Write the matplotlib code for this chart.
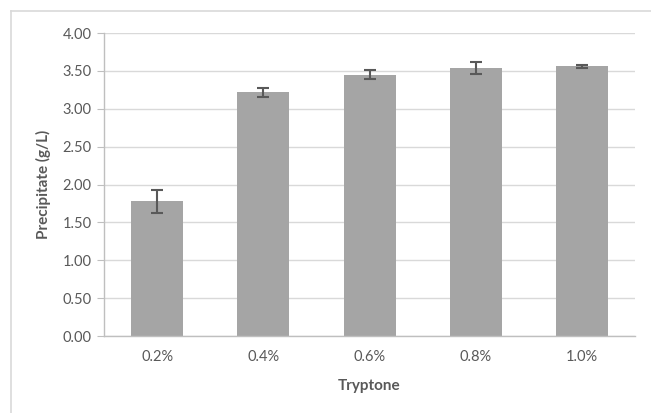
import matplotlib.pyplot as plt
from matplotlib.lines import Line2D

categories = ["0.2%", "0.4%", "0.6%", "0.8%", "1.0%"]
values = [1.78, 3.22, 3.45, 3.54, 3.56]
errors = [0.15, 0.06, 0.06, 0.08, 0.02]
yticks = [0.0, 0.5, 1.0, 1.5, 2.0, 2.5, 3.0, 3.5, 4.0]

plt.rcParams["font.family"] = ["Lato", "DejaVu Sans"]

fig = plt.figure(figsize=(6.51, 4.13), dpi=100)
ax = fig.add_axes([0.1598, 0.1864, 0.8157, 0.7336])

# chart area border (cropped: only top and left edges visible)
bx, by = 10.5 / 651, 1 - 10.5 / 413
fig.lines.append(Line2D([bx, 1], [by, by], transform=fig.transFigure,
                        color="#d9d9d9", linewidth=1.2))
fig.lines.append(Line2D([bx, bx], [0, by], transform=fig.transFigure,
                        color="#d9d9d9", linewidth=1.2))

x = range(len(categories))
ax.bar(x, values, width=0.49, color="#a5a5a5", zorder=2)
ax.errorbar(x, values, yerr=errors, fmt="none", ecolor="#595959",
            elinewidth=1.5, capsize=4, capthick=1.5, zorder=3)

ax.set_xlim(-0.5, len(categories) - 0.5)
ax.set_ylim(0, 4)
ax.set_yticks(yticks)
ax.set_yticklabels([f"{t:.2f}" for t in yticks])
ax.set_xticks(list(x))
ax.set_xticklabels(categories)
ax.yaxis.grid(True, color="#d9d9d9", linewidth=1, zorder=0)
ax.set_axisbelow(True)

for s in ["top", "right"]:
    ax.spines[s].set_visible(False)
for s in ["left", "bottom"]:
    ax.spines[s].set_color("#bfbfbf")
    ax.spines[s].set_linewidth(1)

ax.tick_params(axis="y", length=5, color="#bfbfbf", labelsize=10.5,
               labelcolor="#595959", pad=4)
ax.tick_params(axis="x", length=0, labelsize=10.5, labelcolor="#595959", pad=10)

ax.set_ylabel("Precipitate (g/L)", fontsize=11, fontweight="bold",
              color="#595959", labelpad=8)
ax.set_xlabel("Tryptone", fontsize=11, fontweight="bold",
              color="#595959", labelpad=11)

fig.savefig("out.png", dpi=100)
